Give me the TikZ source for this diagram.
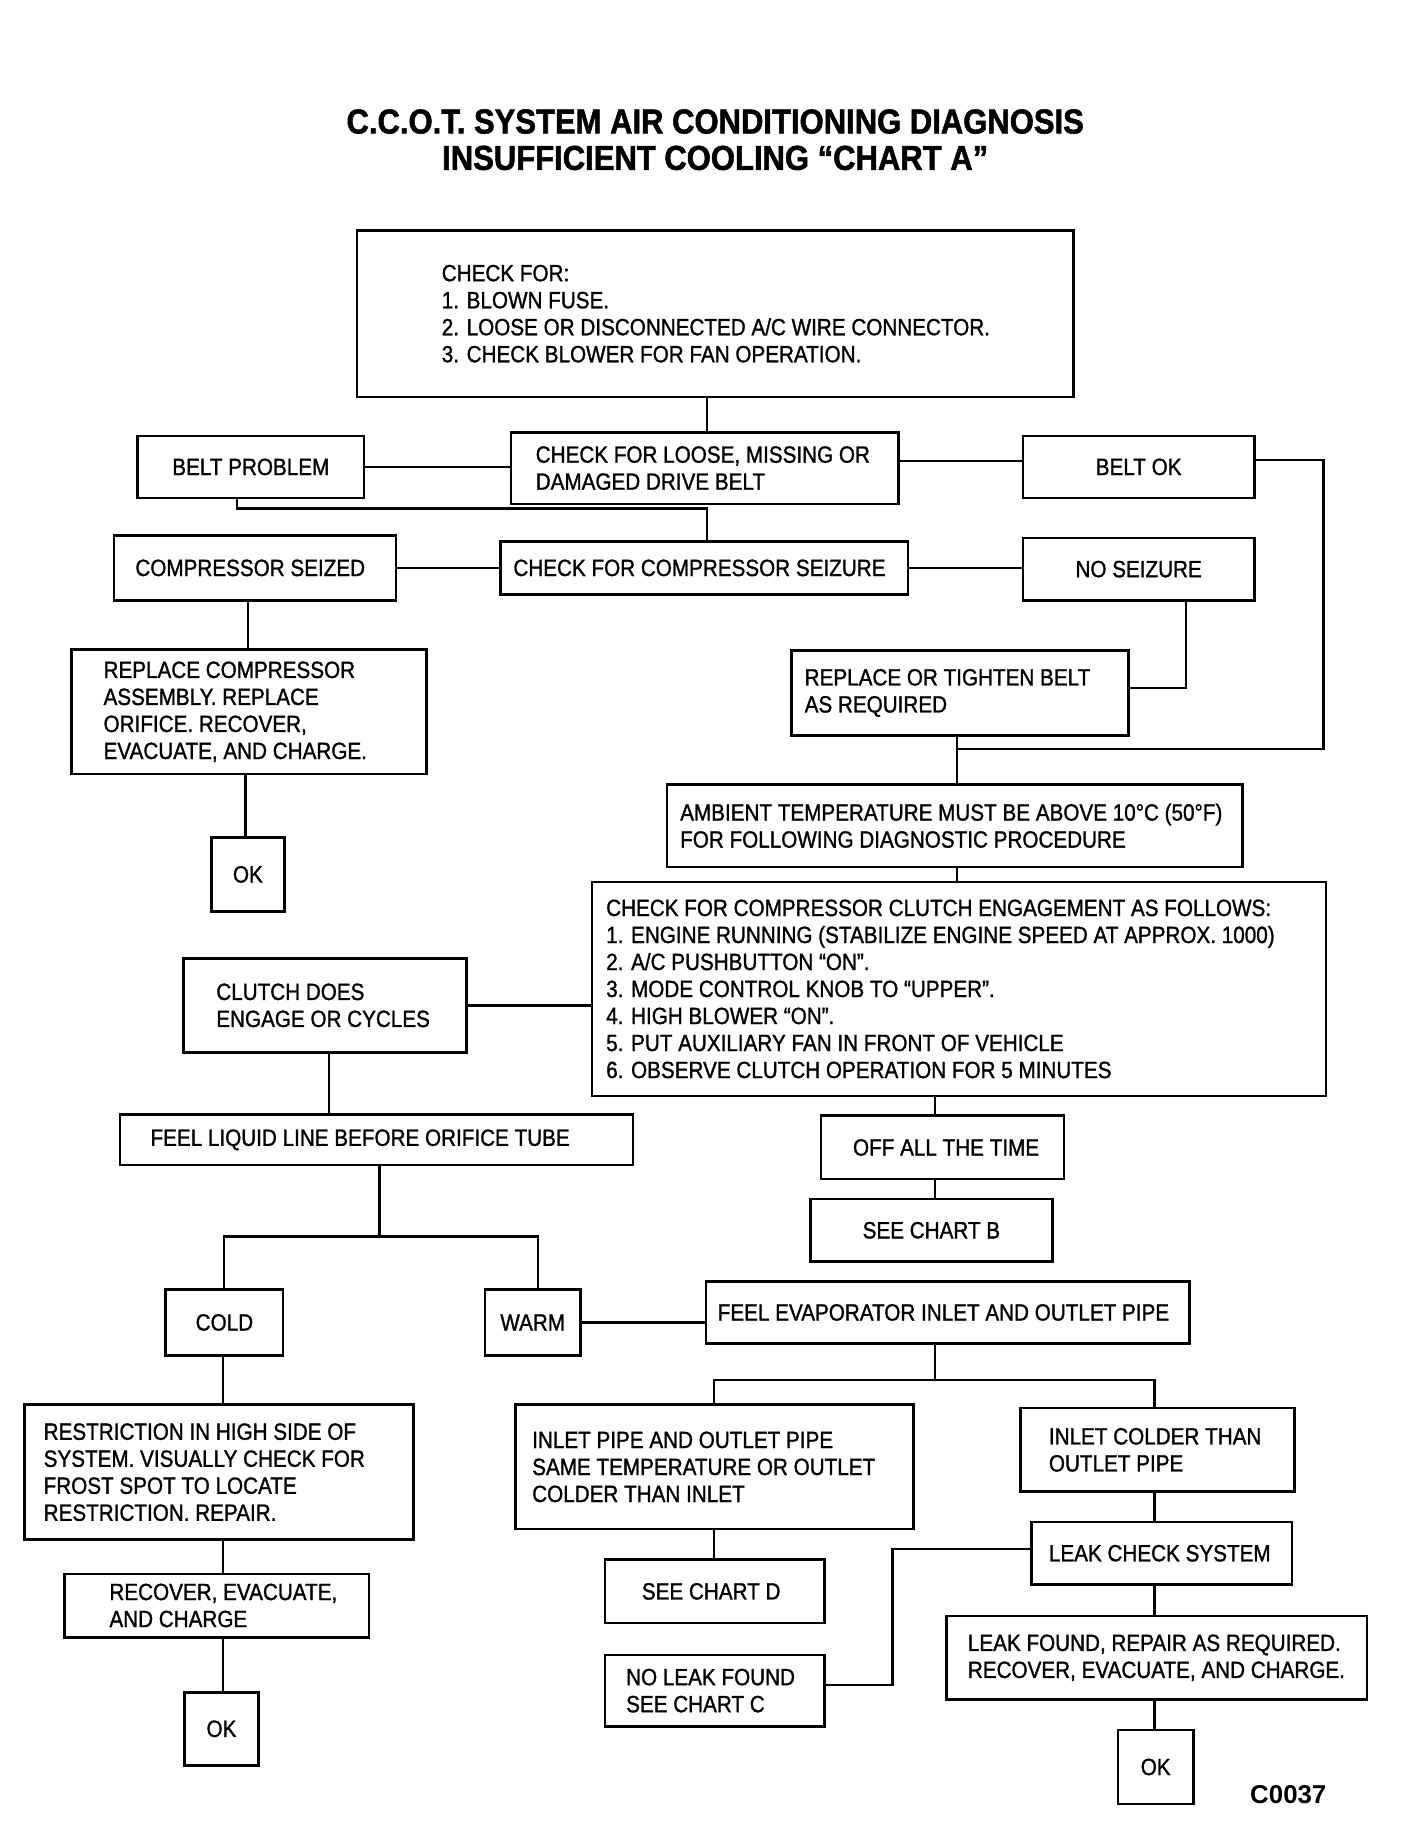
\documentclass[tikz,border=0pt]{standalone}
\usepackage{fontspec}
\setmainfont{Liberation Sans}[FakeStretch=0.88,FakeBold=1.2]
\newfontfamily\titlefont{Liberation Sans}[FakeStretch=0.895,FakeBold=1.5]
\newfontfamily\plainfont{Liberation Sans}
\begin{document}
\begin{tikzpicture}[x=1pt,y=-1pt,
  box/.style={draw,line width=2.2pt,inner sep=0pt,anchor=north west,font=\fontsize{20}{23}\selectfont},
  conn/.style={line width=2pt},
  txt/.style={anchor=west,align=left,inner sep=0pt,font=\fontsize{20}{23}\selectfont}]
\useasboundingbox (0,0) rectangle (1198.3,1568.5);
% title
\node[font=\titlefont\bfseries\fontsize{29.5}{31}\selectfont,align=center,inner sep=0pt] (title) at (609,119)
  {C.C.O.T. SYSTEM AIR CONDITIONING DIAGNOSIS\\INSUFFICIENT COOLING “CHART A”};
% boxes
\node[box,minimum width=610pt,minimum height=142pt] (b1) at (303,195) {};
\node[txt] (t1) at ([xshift=73pt]b1.west) {CHECK FOR:\\1. BLOWN FUSE.\\2. LOOSE OR DISCONNECTED A/C WIRE CONNECTOR.\\3. CHECK BLOWER FOR FAN OPERATION.};
\node[box,minimum width=330pt,minimum height=61pt] (beltchk) at (434,367) {};
\node[txt] (t2) at ([xshift=22pt]beltchk.west) {CHECK FOR LOOSE, MISSING OR\\DAMAGED DRIVE BELT};
\node[box,minimum width=193pt,minimum height=53pt] (beltprob) at (116,370) {BELT PROBLEM};
\node[box,minimum width=197pt,minimum height=53pt] (beltok) at (870,370) {BELT OK};
\node[box,minimum width=240pt,minimum height=55pt] (compseized) at (96,455) {COMPRESSOR SEIZED\hspace*{8pt}};
\node[box,minimum width=347pt,minimum height=45pt] (checkseiz) at (425,460) {};
\node[txt] (t3) at ([xshift=12pt]checkseiz.west) {CHECK FOR COMPRESSOR SEIZURE};
\node[box,minimum width=197pt,minimum height=53pt] (noseiz) at (870,457) {NO SEIZURE};
\node[box,minimum width=302pt,minimum height=106pt] (replcomp) at (60,552) {};
\node[txt] (t4) at ([xshift=28pt]replcomp.west) {REPLACE COMPRESSOR\\ASSEMBLY. REPLACE\\ORIFICE. RECOVER,\\EVACUATE, AND CHARGE.};
\node[box,minimum width=62pt,minimum height=63pt] (ok1) at (179,712) {OK};
\node[box,minimum width=287pt,minimum height=72pt] (replbelt) at (673,553) {};
\node[txt] (t5) at ([xshift=12pt]replbelt.west) {REPLACE OR TIGHTEN BELT\\AS REQUIRED};
\node[box,minimum width=490pt,minimum height=70pt] (ambient) at (567,667) {};
\node[txt] (t6) at ([xshift=12pt]ambient.west) {AMBIENT TEMPERATURE MUST BE ABOVE 10°C (50°F)\\FOR FOLLOWING DIAGNOSTIC PROCEDURE};
\node[box,minimum width=625pt,minimum height=182pt] (clutchchk) at (503,750) {};
\node[txt] (t7) at ([xshift=13pt]clutchchk.west) {CHECK FOR COMPRESSOR CLUTCH ENGAGEMENT AS FOLLOWS:\\1. ENGINE RUNNING (STABILIZE ENGINE SPEED AT APPROX. 1000)\\2. A/C PUSHBUTTON “ON”.\\3. MODE CONTROL KNOB TO “UPPER”.\\4. HIGH BLOWER “ON”.\\5. PUT AUXILIARY FAN IN FRONT OF VEHICLE\\6. OBSERVE CLUTCH OPERATION FOR 5 MINUTES};
\node[box,minimum width=241pt,minimum height=80pt] (clutchdoes) at (155,815) {};
\node[txt] (t8) at ([xshift=29pt]clutchdoes.west) {CLUTCH DOES\\ENGAGE OR CYCLES};
\node[box,minimum width=437pt,minimum height=43pt] (feelliq) at (101,948) {};
\node[txt] (t9) at ([xshift=27pt]feelliq.west) {FEEL LIQUID LINE BEFORE ORIFICE TUBE};
\node[box,minimum width=207pt,minimum height=54pt] (offall) at (698,949) {\hspace*{6pt}OFF ALL THE TIME};
\node[box,minimum width=206pt,minimum height=53pt] (chartb) at (689,1020) {SEE CHART B};
\node[box,minimum width=100pt,minimum height=56pt] (cold) at (140,1097) {COLD};
\node[box,minimum width=81pt,minimum height=56pt] (warm) at (412,1097) {WARM};
\node[box,minimum width=412pt,minimum height=53pt] (feelevap) at (600,1090) {};
\node[txt] (t10) at ([xshift=11pt]feelevap.west) {FEEL EVAPORATOR INLET AND OUTLET PIPE};
\node[box,minimum width=339pt,minimum height=106pt] (inletsame) at (438,1195) {};
\node[txt] (t11) at ([xshift=15pt]inletsame.west) {INLET PIPE AND OUTLET PIPE\\SAME TEMPERATURE OR OUTLET\\COLDER THAN INLET};
\node[box,minimum width=233pt,minimum height=71pt] (inletcold) at (868,1198) {};
\node[txt] (t12) at ([xshift=25pt]inletcold.west) {INLET COLDER THAN\\OUTLET PIPE};
\node[box,minimum width=222pt,minimum height=53pt] (leakchk) at (877,1295) {};
\node[txt] (t13) at ([xshift=16pt]leakchk.west) {LEAK CHECK SYSTEM};
\node[box,minimum width=187pt,minimum height=54pt] (chartd) at (514,1327) {SEE CHART D\hspace*{6pt}};
\node[box,minimum width=187pt,minimum height=61pt] (noleak) at (514,1408) {};
\node[txt] (t14) at ([xshift=19pt]noleak.west) {NO LEAK FOUND\\SEE CHART C};
\node[box,minimum width=358pt,minimum height=71pt] (leakfound) at (805,1375) {};
\node[txt] (t15) at ([xshift=19pt]leakfound.west) {LEAK FOUND, REPAIR AS REQUIRED.\\RECOVER, EVACUATE, AND CHARGE.};
\node[box,minimum width=64pt,minimum height=63pt] (ok3) at (951,1472) {OK};
\node[box,minimum width=331pt,minimum height=115pt] (restr) at (20,1195) {};
\node[txt] (t16) at ([xshift=17pt]restr.west) {RESTRICTION IN HIGH SIDE OF\\SYSTEM. VISUALLY CHECK FOR\\FROST SPOT TO LOCATE\\RESTRICTION. REPAIR.};
\node[box,minimum width=259pt,minimum height=54pt] (recover) at (54,1339) {};
\node[txt] (t17) at ([xshift=39pt]recover.west) {RECOVER, EVACUATE,\\AND CHARGE};
\node[box,minimum width=63pt,minimum height=62pt] (ok2) at (156,1440) {OK};
\node[font=\plainfont\bfseries\fontsize{22}{24}\selectfont,inner sep=0pt] (code) at (1097,1528) {C0037};
% junction coordinates
\coordinate (x602) at (602,0);
\coordinate (jb1) at (202,433);
\coordinate (jb2) at (602,433);
\coordinate (rr) at (1127,638);
\coordinate (jr) at (815,638);
\coordinate (jn) at (1010,586);
\coordinate (x211) at (211,0);
\coordinate (x209) at (209,0);
\coordinate (x280) at (280,0);
\coordinate (x796) at (796,0);
\coordinate (jc) at (323,1053);
\coordinate (jcl) at (191,1053);
\coordinate (jcr) at (458,1053);
\coordinate (je) at (796,1175);
\coordinate (jel) at (608,1175);
\coordinate (jer) at (983,1175);
\coordinate (x190) at (190,0);
\coordinate (jl1) at (760,1435);
\coordinate (jl2) at (760,1319);
% connectors
\draw[conn] (b1.south -| x602) -- (beltchk.north -| x602);
\draw[conn] (beltprob.east) -- (beltprob.east -| beltchk.west);
\draw[conn] ([yshift=6pt]beltchk.east) -- ([yshift=6pt]beltchk.east -| beltok.west);
\draw[conn] ([yshift=6pt]beltok.east) -| (rr) -- (jr);
\draw[conn] (beltprob.south -| jb1) -- (jb1) -- (jb2) -- (checkseiz.north -| jb2);
\draw[conn] (compseized.east) -- (compseized.east -| checkseiz.west);
\draw[conn] (checkseiz.east) -- (checkseiz.east -| noseiz.west);
\draw[conn] (compseized.south -| x211) -- (replcomp.north -| x211);
\draw[conn] (replcomp.south -| x209) -- (ok1.north -| x209);
\draw[conn] (noseiz.south -| jn) -- (jn) -- (replbelt.east |- jn);
\draw[conn] (replbelt.south -| jr) -- (ambient.north -| jr);
\draw[conn] (ambient.south -| jr) -- (clutchchk.north -| jr);
\draw[conn] (clutchdoes.east) -- (clutchdoes.east -| clutchchk.west);
\draw[conn] (clutchdoes.south -| x280) -- (feelliq.north -| x280);
\draw[conn] (clutchchk.south -| x796) -- (offall.north -| x796);
\draw[conn] (offall.south -| x796) -- (chartb.north -| x796);
\draw[conn] (feelliq.south -| jc) -- (jc);
\draw[conn] (cold.north -| jcl) -- (jcl) -- (jcr) -- (warm.north -| jcr);
\draw[conn] (warm.east) -- (warm.east -| feelevap.west);
\draw[conn] (feelevap.south -| je) -- (je);
\draw[conn] (inletsame.north -| jel) -- (jel) -- (jer) -- (inletcold.north -| jer);
\draw[conn] (inletsame.south -| jel) -- (chartd.north -| jel);
\draw[conn] (inletcold.south -| jer) -- (leakchk.north -| jer);
\draw[conn] (noleak.east |- jl1) -- (jl1) -- (jl2) -- (leakchk.west |- jl2);
\draw[conn] (leakchk.south -| jer) -- (leakfound.north -| jer);
\draw[conn] (leakfound.south -| jer) -- (ok3.north -| jer);
\draw[conn] (cold.south -| x190) -- (restr.north -| x190);
\draw[conn] (restr.south -| x190) -- (recover.north -| x190);
\draw[conn] (recover.south -| x190) -- (ok2.north -| x190);
\end{tikzpicture}
\end{document}
